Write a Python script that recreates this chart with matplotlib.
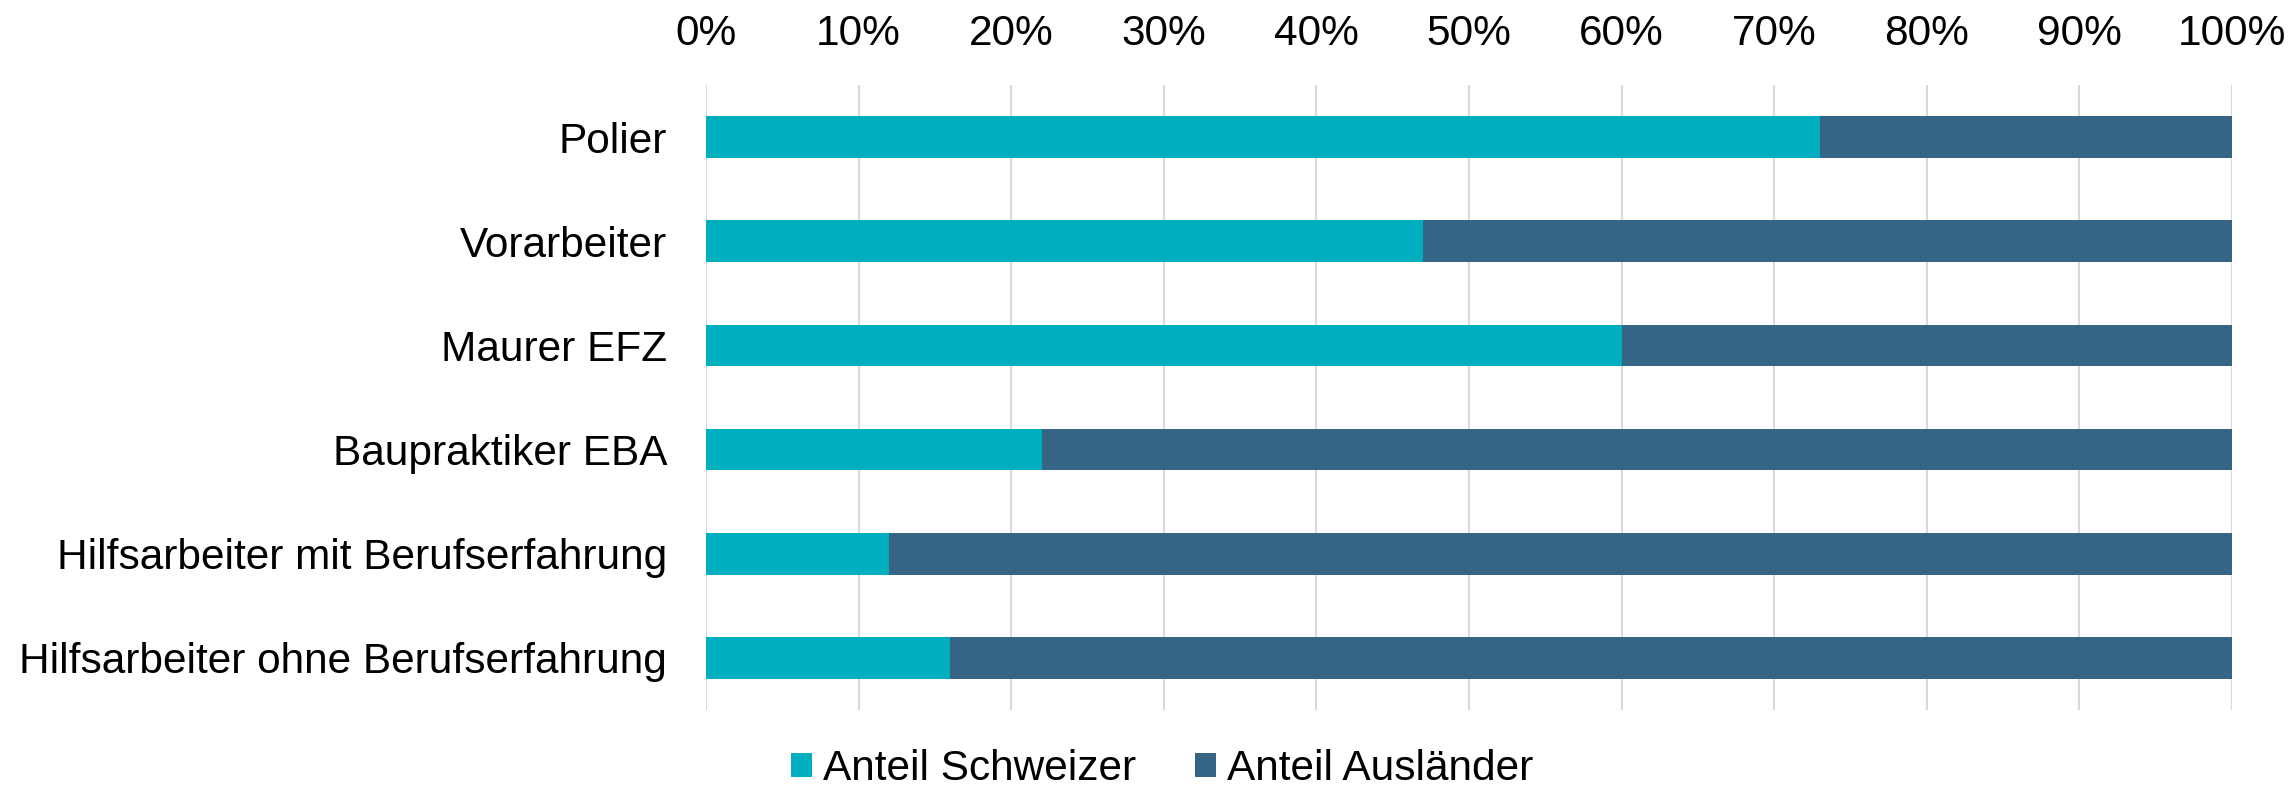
import numpy as np
import matplotlib.pyplot as plt
from matplotlib.ticker import PercentFormatter

# --------------------------------------------------
# Data
# --------------------------------------------------

categories = [
    "Polier",
    "Vorarbeiter",
    "Maurer EFZ",
    "Baupraktiker EBA",
    "Hilfsarbeiter mit Berufserfahrung",
    "Hilfsarbeiter ohne Berufserfahrung",
]

anteil_schweizer = [73, 47, 60, 22, 12, 16]
anteil_auslaender = [27, 53, 40, 78, 88, 84]

series_names = ["Anteil Schweizer", "Anteil Ausländer"]
colors = ["#00AFBF", "#356484"]

plt.rcParams["font.family"] = ["Liberation Sans", "DejaVu Sans"]

# --------------------------------------------------
# Plot
# --------------------------------------------------

fig = plt.figure(figsize=(22.92, 7.85), dpi=100)
ax = fig.add_axes([0.308, 0.0955, 0.6658, 0.7962])

y = np.arange(len(categories))

ax.barh(y, anteil_schweizer, height=0.4, color=colors[0],
        label=series_names[0], zorder=3)
ax.barh(y, anteil_auslaender, left=anteil_schweizer, height=0.4,
        color=colors[1], label=series_names[1], zorder=3)

ax.set_ylim(len(categories) - 0.5, -0.5)
ax.set_xlim(0, 100)
ax.set_yticks(y)
ax.set_yticklabels(categories)
ax.set_xticks(np.arange(0, 101, 10))
ax.xaxis.set_major_formatter(PercentFormatter(decimals=0))
ax.xaxis.tick_top()

ax.tick_params(axis="y", length=0, pad=28, labelsize=30.5)
ax.tick_params(axis="x", length=0, pad=22, labelsize=30.5)

ax.grid(axis="x", color="#D9D9D9", linewidth=1.5, zorder=0)
for spine in ax.spines.values():
    spine.set_visible(False)

fig.legend(
    loc="center",
    bbox_to_anchor=(0.507, 0.02),
    ncol=2,
    frameon=False,
    fontsize=30.5,
    handlelength=0.5,
    handleheight=0.5,
    handletextpad=0.25,
    columnspacing=1.4,
    borderpad=0.1,
)

plt.savefig("out.png", dpi=100)
plt.close()
